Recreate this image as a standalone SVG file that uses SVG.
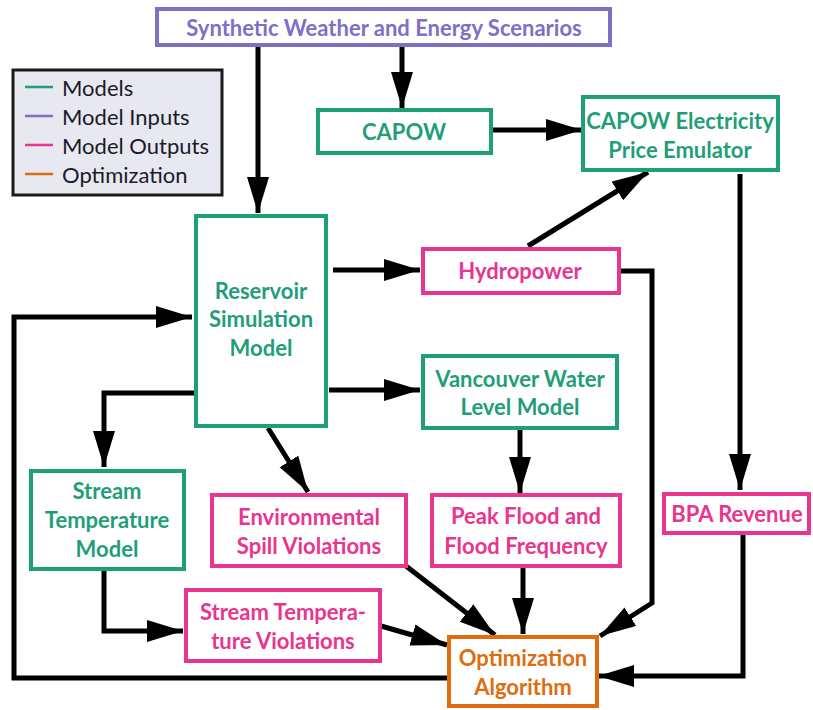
<svg xmlns="http://www.w3.org/2000/svg" width="813" height="710" viewBox="0 0 813 710">
<style>
.box{fill:#fff;stroke-width:4}
.g{stroke:#1f9e7a}.gt{fill:#1f9e7a}
.p{stroke:#e8358f}.pt{fill:#e8358f}
.v{stroke:#7d70c6}.vt{fill:#7d70c6}
.o{stroke:#e06c10}.ot{fill:#e06c10}
text{font-family:Lato,"Open Sans",sans-serif;font-weight:bold;font-size:22px;text-anchor:middle;dominant-baseline:central}
.leg{font-weight:normal;text-anchor:start;fill:#1a1a2a;font-size:22px}
.c{fill:none;stroke:#000;stroke-width:5;marker-end:url(#ah)}
</style>
<defs>
<marker id="ah" markerUnits="userSpaceOnUse" markerWidth="38" markerHeight="24" refX="36" refY="11" orient="auto" viewBox="0 0 38 24">
<path d="M0,0 L36,11 L0,22 z" fill="#000"/>
</marker>
</defs>
<rect width="813" height="710" fill="#fff"/>
<g id="legend">
<rect x="13" y="70" width="209" height="125" fill="#e8e8f0" stroke="#1a1a1a" stroke-width="3"/>
<line x1="25" y1="87" x2="53" y2="87" stroke="#1f9e7a" stroke-width="2.5"/>
<line x1="25" y1="116" x2="53" y2="116" stroke="#7d70c6" stroke-width="2.5"/>
<line x1="25" y1="145" x2="53" y2="145" stroke="#e8358f" stroke-width="2.5"/>
<line x1="25" y1="174" x2="53" y2="174" stroke="#e06c10" stroke-width="2.5"/>
<text class="leg" x="62" y="87">Models</text>
<text class="leg" x="62" y="116">Model Inputs</text>
<text class="leg" x="62" y="145">Model Outputs</text>
<text class="leg" x="62" y="174">Optimization</text>
</g>
<g id="connectors">
<path class="c" d="M258,45 L258,213"/>
<path class="c" d="M402,45 L402,108"/>
<path class="c" d="M492,130 L582,130"/>
<path class="c" d="M528,246 L648,172"/>
<path class="c" d="M740,174 L740,490"/>
<path class="c" d="M333,270 L420,270"/>
<path class="c" d="M329,390 L420,390"/>
<path class="c" d="M619,271 L652,271 L652,603 L600,636"/>
<path class="c" d="M743,535 L743,676 L598,676"/>
<path class="c" d="M447,678 L14,678 L14,317 L192,317"/>
<path class="c" d="M195,393 L104,393 L104,467"/>
<path class="c" d="M268,428 L308,492"/>
<path class="c" d="M104,569 L104,631 L183,631"/>
<path class="c" d="M381,626 L447,645"/>
<path class="c" d="M520,429 L520,493"/>
<path class="c" d="M523,567 L523,634"/>
<path class="c" d="M406,566 L495,635"/>
</g>
<g id="synthetic">
<rect class="box v" x="157" y="9" width="453" height="36"/>
<text class="vt" x="384" y="27">Synthetic Weather and Energy Scenarios</text>
</g>
<g id="capow">
<rect class="box g" x="318" y="110" width="173" height="43"/>
<text class="gt" x="404" y="131">CAPOW</text>
</g>
<g id="emulator">
<rect class="box g" x="583" y="97" width="195" height="73"/>
<text class="gt" x="680" y="120">CAPOW Electricity</text>
<text class="gt" x="680" y="149">Price Emulator</text>
</g>
<g id="reservoir">
<rect class="box g" x="196" y="216" width="130" height="210"/>
<text class="gt" x="261" y="290">Reservoir</text>
<text class="gt" x="261" y="318">Simulation</text>
<text class="gt" x="261" y="347">Model</text>
</g>
<g id="hydropower">
<rect class="box p" x="423" y="249" width="196" height="44"/>
<text class="pt" x="520" y="270">Hydropower</text>
</g>
<g id="vancouver">
<rect class="box g" x="423" y="356" width="194" height="72"/>
<text class="gt" x="520" y="378">Vancouver Water</text>
<text class="gt" x="520" y="406">Level Model</text>
</g>
<g id="bpa">
<rect class="box p" x="664" y="494" width="145" height="39"/>
<text class="pt" x="737" y="513">BPA Revenue</text>
</g>
<g id="streammodel">
<rect class="box g" x="31" y="471" width="153" height="98"/>
<text class="gt" x="107" y="490">Stream</text>
<text class="gt" x="107" y="519">Temperature</text>
<text class="gt" x="107" y="548">Model</text>
</g>
<g id="envspill">
<rect class="box p" x="212" y="495" width="194" height="71"/>
<text class="pt" x="309" y="516">Environmental</text>
<text class="pt" x="309" y="545">Spill Violations</text>
</g>
<g id="peakflood">
<rect class="box p" x="432" y="495" width="188" height="71"/>
<text class="pt" x="526" y="515">Peak Flood and</text>
<text class="pt" x="526" y="545">Flood Frequency</text>
</g>
<g id="streamviol">
<rect class="box p" x="186" y="590" width="194" height="71"/>
<text class="pt" x="283" y="611">Stream Tempera-</text>
<text class="pt" x="283" y="640">ture Violations</text>
</g>
<g id="optimization">
<rect class="box o" x="449" y="637" width="148" height="69"/>
<text class="ot" x="523" y="657">Optimization</text>
<text class="ot" x="523" y="686">Algorithm</text>
</g>
</svg>
